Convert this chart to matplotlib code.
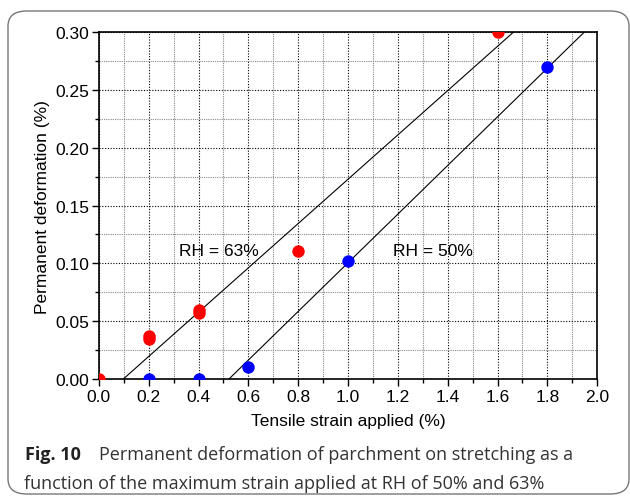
import matplotlib.pyplot as plt
import numpy as np
from matplotlib.patches import FancyBboxPatch
from matplotlib.ticker import MultipleLocator

# Measured points: tensile strain applied (%) vs permanent deformation (%)
strain_63 = [0.0, 0.2, 0.2, 0.4, 0.4, 0.8, 1.6]
deform_63 = [0.0, 0.035, 0.037, 0.060, 0.057, 0.111, 0.300]
strain_50 = [0.2, 0.4, 0.6, 1.0, 1.8]
deform_50 = [0.0, 0.0, 0.010, 0.102, 0.270]

# Straight lines drawn through each series: (x intercept, slope)
fit_63 = (0.098, 0.1916)
fit_50 = (0.522, 0.2104)

plt.rcParams['font.family'] = ['Liberation Sans', 'DejaVu Sans']

fig = plt.figure(figsize=(6.3, 5.02), dpi=100)
ax = fig.add_axes([0.157, 0.243, 0.791, 0.691])

# rounded frame around figure + caption
frame = FancyBboxPatch((8 / 630, 7 / 502), 621 / 630, 483 / 502,
                       boxstyle="round,pad=0,rounding_size=0.03",
                       transform=fig.transFigure, fill=False,
                       edgecolor='#777777', linewidth=1.0, zorder=0)
fig.patches.append(frame)

for x0, k in (fit_63, fit_50):
    xs = np.array([x0, 2.0])
    ax.plot(xs, k * (xs - x0), color='black', linewidth=0.8, zorder=3)

ax.scatter(strain_63, deform_63, s=80, color='#ff0000', zorder=4, linewidths=0)
ax.scatter(strain_50, deform_50, s=80, color='#0000ff', zorder=4, linewidths=0)

ax.text(0.32, 0.111, 'RH = 63%', fontsize=12.5, va='center', zorder=5)
ax.text(1.18, 0.111, 'RH = 50%', fontsize=12.5, va='center', zorder=5)

ax.set_xlim(0, 2.0)
ax.set_ylim(0, 0.30)
ax.xaxis.set_major_locator(MultipleLocator(0.2))
ax.xaxis.set_minor_locator(MultipleLocator(0.1))
ax.yaxis.set_major_locator(MultipleLocator(0.05))
ax.yaxis.set_minor_locator(MultipleLocator(0.025))
ax.xaxis.set_major_formatter(plt.FormatStrFormatter('%.1f'))
ax.yaxis.set_major_formatter(plt.FormatStrFormatter('%.2f'))

ax.tick_params(which='major', direction='out', length=5, width=1, pad=2, labelsize=12.5)
ax.tick_params(which='minor', direction='out', length=3, width=1)
for s in ax.spines.values():
    s.set_linewidth(1.2)

ax.set_axisbelow(True)
ax.grid(True, which='major', color='black', linestyle=(0, (1, 1.5)), linewidth=0.8)
ax.grid(True, which='minor', color='#888888', linestyle=(0, (1, 1)), linewidth=0.8)

ax.set_xlabel('Tensile strain applied (%)', fontsize=12.5, labelpad=7)
ax.set_ylabel('Permanent deformation (%)', fontsize=12.5, labelpad=4)

cap = ['Open Sans', 'DejaVu Sans']
fig.text(25 / 630, 1 - 455 / 502, 'Fig. 10', fontsize=13, fontweight='bold',
         family=cap, color='#222222', va='center')
fig.text(99 / 630, 1 - 455 / 502,
         'Permanent deformation of parchment on stretching as a',
         fontsize=13, family=cap, color='#333333', va='center')
fig.text(24 / 630, 1 - 484 / 502,
         'function of the maximum strain applied at RH of 50% and 63%',
         fontsize=13, family=cap, color='#333333', va='center')

fig.savefig('out.png', dpi=100)
